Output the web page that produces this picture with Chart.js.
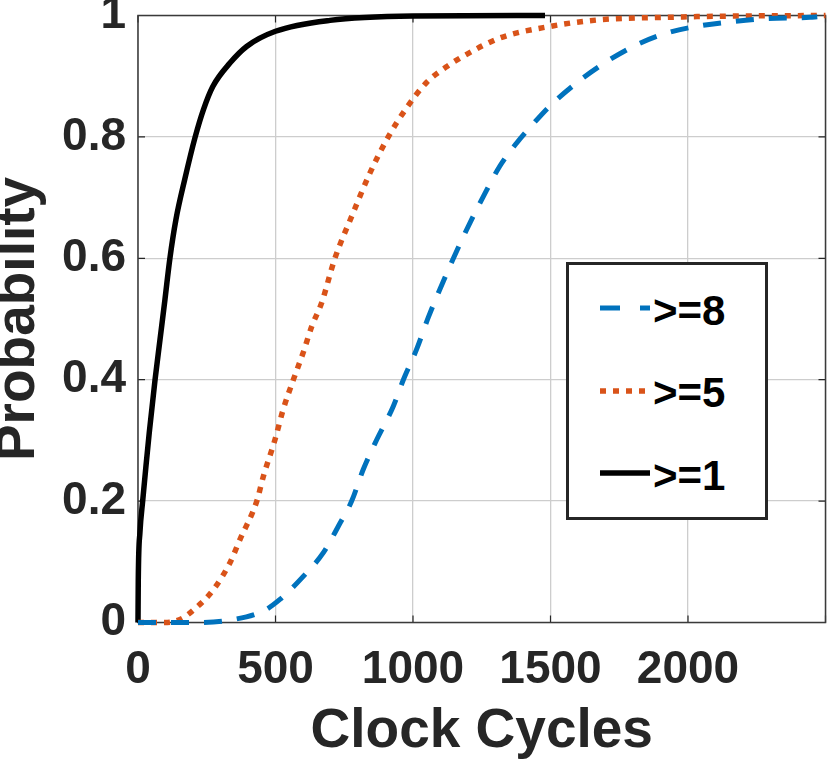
<!DOCTYPE html>
<html>
<head>
<meta charset="utf-8">
<script src="https://cdn.jsdelivr.net/npm/chart.js@4.4.0/dist/chart.umd.min.js"></script>
<style>
  html, body { margin: 0; padding: 0; background: #fff; }
  #wrap { position: relative; width: 830px; height: 765px; }
  #c { position: absolute; left: 0; top: 0; }
  .lgbox { position: absolute; left: 566px; top: 262px; width: 196px; height: 252px; border: 3px solid #262626; background: #fff; box-sizing: content-box; }
  .lgtxt { position: absolute; font-family: 'Liberation Sans', Arial, Helvetica, sans-serif; font-weight: bold; font-size: 42px; line-height: 42px; color: #000; white-space: nowrap; }
  .lgsvg { position: absolute; }
</style>
</head>
<body>
<div id="wrap">
  <canvas id="c" width="830" height="765"></canvas>
  <div class="lgbox"></div>
  <div id="legend"></div>
</div>
<script>
// ---- data ----
const seriesLabels = ['>=8', '>=5', '>=1'];
const seriesColors = ['#0072BD', '#D95319', '#000000'];

const x8 = [0, 218, 335, 456, 516, 601, 674, 729, 777, 819, 868, 928, 965, 1013, 1056, 1147, 1195, 1256, 1316, 1377, 1438, 1498, 1595, 1680, 1801, 1922, 2044, 2165, 2286, 2444, 2470];
const y8 = [0, 0, 0.004, 0.019, 0.038, 0.076, 0.115, 0.159, 0.2, 0.252, 0.301, 0.356, 0.4, 0.45, 0.503, 0.6, 0.647, 0.702, 0.752, 0.79, 0.822, 0.851, 0.889, 0.917, 0.949, 0.971, 0.983, 0.990, 0.995, 0.997, 0.998];

const x5 = [0, 90, 153, 213, 274, 335, 371, 432, 456, 498, 528, 565, 601, 632, 668, 716, 777, 844, 910, 977, 1050, 1120, 1195, 1316, 1498, 1680, 1924, 2150, 2500];
const y5 = [0, 0, 0.005, 0.025, 0.054, 0.099, 0.137, 0.2, 0.241, 0.301, 0.351, 0.4, 0.445, 0.488, 0.527, 0.6, 0.669, 0.741, 0.8, 0.848, 0.89, 0.915, 0.936, 0.963, 0.982, 0.993, 0.997, 0.999, 1.0];

const x1 = [0, 1, 7, 17, 29, 41, 62, 80, 98, 116, 138, 170, 208, 238, 272, 335, 395, 500, 698, 1000, 1480];
const y1 = [0, 0.07, 0.148, 0.2, 0.258, 0.313, 0.4, 0.466, 0.532, 0.6, 0.664, 0.73, 0.8, 0.845, 0.883, 0.922, 0.949, 0.974, 0.992, 0.999, 1.0];

const xTicks = [0, 500, 1000, 1500, 2000, 2500];
const xTickLabels = ['0', '500', '1000', '1500', '2000', ''];
const yTicks = [0, 0.2, 0.4, 0.6, 0.8, 1];
const yTickLabels = ['0', '0.2', '0.4', '0.6', '0.8', '1'];

const xTitle = 'Clock Cycles';
const yTitle = 'Probability';

// ---- build ----
const toPts = (xs, ys) => xs.map((x, i) => ({ x: x, y: ys[i] }));
const FONT = "'Liberation Sans', Arial, Helvetica, sans-serif";
const TXT = '#262626';

const dashes = [[18, 15], [6, 7], []];
const widths = [5, 5.5, 5.5];

const datasets = [
  { label: seriesLabels[0], data: toPts(x8, y8) },
  { label: seriesLabels[1], data: toPts(x5, y5) },
  { label: seriesLabels[2], data: toPts(x1, y1) }
].map((d, i) => Object.assign(d, {
  borderColor: seriesColors[i],
  backgroundColor: seriesColors[i],
  borderWidth: widths[i],
  borderDash: dashes[i],
  borderCapStyle: 'butt',
  pointRadius: 0,
  fill: false,
  cubicInterpolationMode: 'monotone',
  clip: 10
}));

const framePlugin = {
  id: 'frame',
  beforeDatasetsDraw(chart) {
    const { ctx, chartArea: a, scales } = chart;
    ctx.save();
    ctx.strokeStyle = TXT;
    ctx.lineWidth = 1.2;
    const tl = 7;
    ctx.beginPath();
    xTicks.forEach(v => {
      const px = scales.x.getPixelForValue(v);
      ctx.moveTo(px, a.bottom); ctx.lineTo(px, a.bottom - tl);
      ctx.moveTo(px, a.top); ctx.lineTo(px, a.top + tl);
    });
    yTicks.forEach(v => {
      const py = scales.y.getPixelForValue(v);
      ctx.moveTo(a.left, py); ctx.lineTo(a.left + tl, py);
      ctx.moveTo(a.right, py); ctx.lineTo(a.right - tl, py);
    });
    ctx.stroke();
    ctx.lineWidth = 1.5;
    ctx.strokeStyle = '#3a3a3a';
    ctx.strokeRect(a.left, a.top, a.right - a.left, a.bottom - a.top);
    ctx.restore();
  }
};

const noPad = s => { s.paddingTop = 0; s.paddingBottom = 0; s.paddingLeft = 0; s.paddingRight = 0; };

const chart = new Chart(document.getElementById('c'), {
  type: 'line',
  data: { datasets: datasets },
  options: {
    responsive: false,
    animation: false,
    devicePixelRatio: 1,
    layout: { padding: { top: 15.5, right: 4.5, left: 0, bottom: 0 } },
    plugins: { legend: { display: false }, tooltip: { enabled: false } },
    scales: {
      x: {
        type: 'linear', min: 0, max: 2500,
        afterBuildTicks: s => { s.ticks = xTicks.map(v => ({ value: v })); },
        afterFit: s => { s.height = 142.5; noPad(s); },
        ticks: {
          callback: (v) => xTickLabels[xTicks.indexOf(v)],
          font: { family: FONT, size: 46, weight: 'bold' },
          color: TXT, padding: 20, maxRotation: 0, autoSkip: false
        },
        grid: { color: '#cdcdcd', lineWidth: 1.3, drawTicks: false },
        border: { display: false },
        title: {
          display: true, text: xTitle, color: TXT,
          font: { family: FONT, size: 55, weight: 'bold', lineHeight: 1.2 },
          padding: 0
        }
      },
      y: {
        type: 'linear', min: 0, max: 1,
        afterBuildTicks: s => { s.ticks = yTicks.map(v => ({ value: v })); },
        afterFit: s => { s.width = 138; noPad(s); },
        ticks: {
          callback: (v) => yTickLabels[yTicks.indexOf(v)],
          font: { family: FONT, size: 46, weight: 'bold' },
          color: TXT, padding: 12, autoSkip: false
        },
        grid: { color: '#cdcdcd', lineWidth: 1.3, drawTicks: false },
        border: { display: false },
        title: {
          display: true, text: yTitle, color: TXT,
          font: { family: FONT, size: 55, weight: 'bold', lineHeight: 0.7 },
          padding: 0
        }
      }
    }
  },
  plugins: [framePlugin]
});

// ---- legend (HTML, built from the datasets) ----
const lg = document.getElementById('legend');
const rowSampleY = [308, 391, 473];
const rowTextTop = [290, 372, 455];
datasets.forEach((d, i) => {
  const svgNS = 'http://www.w3.org/2000/svg';
  const svg = document.createElementNS(svgNS, 'svg');
  svg.setAttribute('width', '52'); svg.setAttribute('height', '12');
  svg.setAttribute('class', 'lgsvg');
  svg.style.left = '600px';
  svg.style.top = (rowSampleY[i] - 6) + 'px';
  const ln = document.createElementNS(svgNS, 'line');
  ln.setAttribute('x1', '0'); ln.setAttribute('x2', '50');
  ln.setAttribute('y1', '6'); ln.setAttribute('y2', '6');
  ln.setAttribute('stroke', d.borderColor);
  ln.setAttribute('stroke-width', d.borderWidth);
  if (d.borderDash.length) ln.setAttribute('stroke-dasharray', (i === 0 ? [20, 20] : d.borderDash).join(' '));
  svg.appendChild(ln);
  lg.appendChild(svg);
  const t = document.createElement('div');
  t.className = 'lgtxt';
  t.style.left = '653px';
  t.style.top = rowTextTop[i] + 'px';
  t.textContent = d.label;
  lg.appendChild(t);
});
</script>
</body>
</html>
